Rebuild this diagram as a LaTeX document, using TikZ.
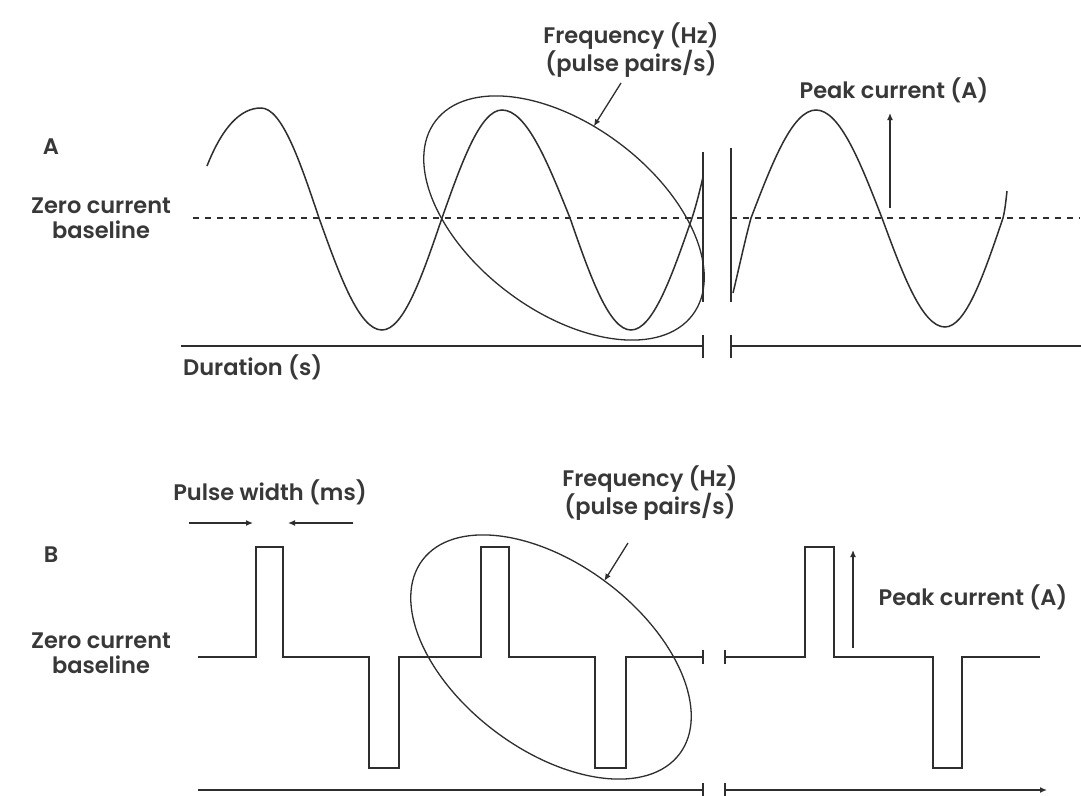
\documentclass[tikz,border=0pt]{standalone}
\usepackage{fontspec}
\setmainfont{Poppins}[UprightFont={* SemiBold}]
\usetikzlibrary{arrows.meta,shapes.geometric}
\definecolor{ink}{HTML}{2E2E2E}
\definecolor{txt}{HTML}{383838}
\begin{document}
\begin{tikzpicture}[x=1pt,y=-1pt,
  lbl/.style={font=\fontsize{22.5}{25}\selectfont, text=txt, align=center, inner sep=0pt},
  wave/.style={draw=ink, line width=1.5pt, line join=miter},
  base/.style={draw=ink, line width=1.6pt, dash pattern=on 6pt off 6pt},
  ring/.style={ellipse, draw=ink, line width=1.3pt, minimum width=322pt, minimum height=186pt, inner sep=0pt, outer sep=0pt, rotate=-37},
  tip/.style={draw=ink, line width=1.3pt, -{Latex[length=7pt,width=6pt]}}]
\useasboundingbox (0,0) rectangle (1081,795);
\fill[white] (0,0) rectangle (1081,795);

% ---------- Panel A ----------
\node[lbl] (labA) at (51,147) {A};
\node[lbl] (zeroA) at (101,218) {Zero current\\baseline};
\node[lbl, anchor=west] (durA) at (183,367) {Duration (s)};
\node[lbl] (freqA) at (631,50) {Frequency (Hz)\\(pulse pairs/s)};
\node[lbl] (peakA) at (894,90) {Peak current (A)};

\draw[base] (193,218) -- (703,218);
\draw[base] (731,218) -- (1080,218);

\draw[wave] (207,166) .. controls (222,128) and (240,108) .. (261,108)
  cos (319,218) sin (382,330) cos (442,218) sin (502,110) cos (570,218)
  sin (631,330) cos (692,218) .. controls (696,206) and (700,190) .. (703,177);
\draw[wave] (733,293) .. controls (739,268) and (745,240) .. (751,218)
  sin (816,110) cos (882,218) sin (945,327) cos (1003,218)
  .. controls (1005,210) and (1006,200) .. (1007,191);

\draw[wave] (703,152) -- (703,302);
\draw[wave] (731,148) -- (731,302);

\draw[wave] (181,346) -- (703,346);
\draw[wave] (731,346) -- (1081,346);
\draw[wave] (703,335) -- (703,358);
\draw[wave] (731,335) -- (731,358);

\node[ring] (ellA) at (564,218) {};
\coordinate (fA) at (621,83);
\draw[tip] (fA) -- (ellA.109);

\coordinate (pA0) at (890,208);
\coordinate (pA1) at (890,113);
\draw[tip] (pA0) -- (pA1);

% ---------- Panel B ----------
\node[lbl] (labB) at (51,555) {B};
\node[lbl] (zeroB) at (101,653) {Zero current\\baseline};
\node[lbl] (pwB) at (270,492) {Pulse width (ms)};
\node[lbl] (freqB) at (650,493) {Frequency (Hz)\\(pulse pairs/s)};
\node[lbl] (peakB) at (973,597) {Peak current (A)};

\draw[wave] (198,657) -- (256,657) -- (256,547) -- (283,547) -- (283,657)
  -- (369,657) -- (369,768) -- (399,768) -- (399,657)
  -- (481,657) -- (481,547) -- (509,547) -- (509,657)
  -- (595,657) -- (595,768) -- (626,768) -- (626,657) -- (703,657);
\draw[wave] (725,657) -- (805,657) -- (805,547) -- (834,547) -- (834,657)
  -- (933,657) -- (933,768) -- (962,768) -- (962,657) -- (1040,657);
\draw[wave] (703,650) -- (703,664);
\draw[wave] (725,650) -- (725,664);

\draw[wave] (198,790) -- (703,790);
\draw[wave] (703,783) -- (703,797);
\draw[wave] (725,783) -- (725,797);
\coordinate (axB0) at (725,790);
\coordinate (axB1) at (1047,790);
\draw[tip, line width=1.5pt] (axB0) -- (axB1);

\node[ring] (ellB) at (551,657) {};
\coordinate (fB) at (628,543);
\draw[tip] (fB) -- (ellB.92);

\coordinate (pw0) at (189,523);
\coordinate (pw1) at (253,523);
\coordinate (pw2) at (353,523);
\coordinate (pw3) at (288,523);
\draw[tip] (pw0) -- (pw1);
\draw[tip] (pw2) -- (pw3);

\coordinate (pB0) at (853,648);
\coordinate (pB1) at (853,550);
\draw[tip] (pB0) -- (pB1);
\end{tikzpicture}
\end{document}
